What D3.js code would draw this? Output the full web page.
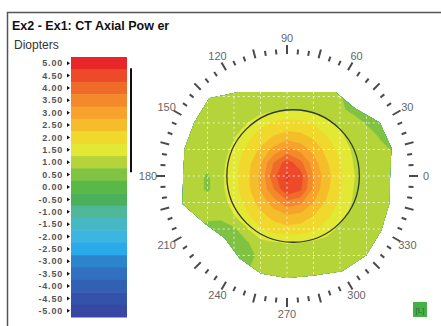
<!DOCTYPE html>
<html>
<head>
<meta charset="utf-8">
<script src="https://cdn.jsdelivr.net/npm/d3@7"></script>
<style>
  body { margin: 0; background: #fff; }
  svg { display: block; font-family: "Liberation Sans", Arial, sans-serif; }
</style>
</head>
<body>
<svg id="chart" width="441" height="326"></svg>
<script>
// legend scale, top to bottom
const legendLabels = ["5.00", "4.50", "4.00", "3.50", "3.00", "2.50", "2.00", "1.50", "1.00", "0.50", "0.00",
  "-0.50", "-1.00", "-1.50", "-2.00", "-2.50", "-3.00", "-3.50", "-4.00", "-4.50", "-5.00"];
const legendColors = ["#e8262a", "#ec4a28", "#f06a2a", "#f4892c", "#f6a22c", "#f6bd2a", "#f0d92c", "#e2e834", "#b4d43a",
  "#80c242", "#5ab848", "#4cb05a", "#50b898", "#46b8c2", "#3cb6e0", "#2aaae8", "#2c84cc", "#2f70c0", "#3260b4", "#3452aa", "#3648a4"];
const mapRange = [0.6, 4.8];

// axial power difference (D), sampled every 0.5 mm from -4 to 4 mm; first row is superior (+4 mm)
const powerGrid = [
  [1, 1, 1, 1, 1, 1, 1, 1, 1, 1, 1, 1, 1, 1, 1, 1, 1],
  [1, 1, 1, 1, 1, 1, 1, 1, 1, 1, 1, 1, 1, 1, 1, 1, 1],
  [1, 1, 1, 1, 1, 1, 1, 1.02, 1.05, 1.04, 1, 1, 0.8, 0.4, 0.5, 0.5, 0.5],
  [1, 1, 1, 1, 1, 1, 1.05, 1.15, 1.22, 1.2, 1.1, 1, 0.85, 0.6, 0.4, 0.5, 0.5],
  [1, 1, 1, 1, 1.03, 1.25, 1.57, 1.81, 1.92, 1.88, 1.7, 1.4, 1.13, 1, 0.7, 0.5, 0.5],
  [1, 1, 1, 1, 1.19, 1.58, 1.97, 2.26, 2.45, 2.38, 2.12, 1.76, 1.34, 1.05, 1, 0.7, 0.5],
  [1, 1, 1, 1.03, 1.37, 1.86, 2.33, 2.9, 3.4, 3.05, 2.57, 2.07, 1.59, 1.16, 1, 0.9, 0.7],
  [1, 1, 1, 1.1, 1.52, 2.05, 2.7, 3.75, 4.5, 3.9, 2.97, 2.3, 1.76, 1.24, 1, 1, 1],
  [1, 1, 0.65, 1.13, 1.58, 2.13, 2.85, 4.1, 4.8, 4.5, 3.2, 2.43, 1.83, 1.28, 1, 1, 1],
  [1, 1, 0.65, 1.12, 1.55, 2.09, 2.78, 3.7, 4.7, 4.35, 3.1, 2.36, 1.79, 1.25, 1, 1, 1],
  [1, 1, 1, 1.06, 1.42, 1.92, 2.45, 3.0, 3.55, 3.35, 2.75, 2.15, 1.65, 1.19, 1, 1, 1],
  [1, 1, 0.85, 0.85, 1.23, 1.67, 2.08, 2.44, 2.66, 2.58, 2.24, 1.86, 1.43, 1.08, 1, 1, 1],
  [1, 0.8, 0.6, 0.55, 0.65, 1.2, 1.7, 1.95, 2.07, 2.02, 1.83, 1.52, 1.1, 1, 1, 1, 1],
  [0.6, 0.6, 0.6, 0.5, 0.55, 0.7, 1.1, 1.22, 1.28, 1.26, 1.15, 1.05, 1, 1, 1, 1, 1],
  [0.6, 0.6, 0.6, 0.6, 0.5, 0.6, 0.85, 1, 1, 1, 1, 1, 1, 1, 1, 1, 1],
  [0.6, 0.6, 0.6, 0.6, 0.6, 0.7, 1, 1, 1, 1, 1, 1, 1, 1, 1, 1, 1],
  [0.6, 0.6, 0.6, 0.6, 0.6, 1, 1, 1, 1, 1, 1, 1, 1, 1, 1, 1, 1]
];

// measured area outline: radius (mm) every 15 deg
const edgeAngles = [0, 15, 30, 45, 60, 75, 90, 105, 120, 135, 150, 165, 180, 195, 210, 225, 240, 255, 270, 285, 300, 315, 330, 345];
const edgeRadius = [3.89, 4.08, 4.04, 3.62, 3.66, 3.28, 3.17, 3.28, 3.66, 4.15, 4.04, 4.0, 3.92, 4.08, 3.58, 3.32, 3.58, 3.81, 3.85, 3.89, 4.15, 4.23, 4.11, 4.0];

const zoneCenter = [0.23, 0];
const zoneRadius = 2.5;
const gridLinesMm = [-4, -3, -2, -1, 0, 1, 2, 3, 4];
const axisLabels = [0, 30, 60, 90, 120, 150, 180, 210, 240, 270, 300, 330];

const svg = d3.select("#chart");
const cx = 287, cy = 176, pxPerMm = 26.5;

// frame
svg.append("path")
  .attr("d", "M7.5,326V12.5H441")
  .attr("fill", "none")
  .attr("stroke", "#555")
  .attr("stroke-width", 1.5);

svg.append("text")
  .attr("x", 12).attr("y", 30)
  .attr("font-size", 12.5).attr("font-weight", "bold").attr("fill", "#111")
  .text("Ex2 - Ex1: CT Axial Pow er");

svg.append("text")
  .attr("x", 14).attr("y", 49)
  .attr("font-size", 12).attr("fill", "#333")
  .text("Diopters");

// legend
const band = d3.scaleBand().domain(legendLabels).range([57, 317]);
const legend = svg.append("g");
legend.selectAll("rect")
  .data(legendLabels)
  .join("rect")
  .attr("x", 71).attr("width", 56)
  .attr("y", d => band(d))
  .attr("height", band.bandwidth() + 0.5)
  .attr("fill", (d, i) => legendColors[i]);

legend.selectAll("text")
  .data(legendLabels)
  .join("text")
  .attr("x", 63)
  .attr("y", d => band(d) + band.bandwidth() / 2)
  .attr("dy", "0.35em")
  .attr("text-anchor", "end")
  .attr("font-size", 9)
  .attr("font-weight", "bold")
  .attr("letter-spacing", 0.8)
  .attr("fill", "#555")
  .text(d => d);

legend.selectAll("path.mark")
  .data(legendLabels)
  .join("path")
  .attr("class", "mark")
  .attr("d", d => {
    const yy = band(d) + band.bandwidth() / 2;
    return `M67,${yy - 2}L70,${yy}L67,${yy + 2}Z`;
  })
  .attr("fill", "#111");

const valueY = d3.scaleLinear()
  .domain([+legendLabels[0], +legendLabels[legendLabels.length - 1]])
  .range([band(legendLabels[0]) + band.bandwidth() / 2, band(legendLabels[legendLabels.length - 1]) + band.bandwidth() / 2]);
svg.append("line")
  .attr("x1", 131).attr("x2", 131)
  .attr("y1", valueY(mapRange[1])).attr("y2", valueY(mapRange[0]))
  .attr("stroke", "#111").attr("stroke-width", 2);

// map
const x = d3.scaleLinear().domain([-4, 4]).range([cx - 4 * pxPerMm, cx + 4 * pxPerMm]);
const y = d3.scaleLinear().domain([-4, 4]).range([cy + 4 * pxPerMm, cy - 4 * pxPerMm]);
const rad = d3.scaleLinear().domain([0, 180]).range([0, Math.PI]);

const edgeLine = d3.line().curve(d3.curveLinearClosed);
const edgePts = edgeAngles.map((a, i) => [x(edgeRadius[i] * Math.cos(rad(a))), y(edgeRadius[i] * Math.sin(rad(a)))]);

svg.append("clipPath").attr("id", "mapClip")
  .append("path").attr("d", edgeLine(edgePts));

const n = powerGrid.length;
const gx = d3.scaleLinear().domain([0.5, n - 0.5]).range([x(-4), x(4)]);
const gy = d3.scaleLinear().domain([0.5, n - 0.5]).range([y(4), y(-4)]);
const project = d3.geoTransform({
  point(px, py) { this.stream.point(gx(px), gy(py)); }
});
const geoPath = d3.geoPath(project);

const color = d3.scaleThreshold()
  .domain(d3.range(-4.75, 5, 0.5))
  .range(legendColors.slice().reverse());

const contours = d3.contours()
  .size([n, n])
  .thresholds(d3.range(-5.25, 5, 0.5))(powerGrid.flat());

const mapG = svg.append("g").attr("clip-path", "url(#mapClip)");
mapG.selectAll("path")
  .data(contours)
  .join("path")
  .attr("d", geoPath)
  .attr("fill", d => color(d.value + 0.25))
  .attr("stroke", d => color(d.value + 0.25))
  .attr("stroke-width", 0.5);

// dashed mm grid
mapG.selectAll("line.v")
  .data(gridLinesMm)
  .join("line")
  .attr("class", "v")
  .attr("x1", d => x(d)).attr("x2", d => x(d))
  .attr("y1", y(4.5)).attr("y2", y(-4.5));
mapG.selectAll("line.h")
  .data(gridLinesMm)
  .join("line")
  .attr("class", "h")
  .attr("y1", d => y(d)).attr("y2", d => y(d))
  .attr("x1", x(-4.5)).attr("x2", x(4.5));
mapG.selectAll("line")
  .attr("stroke", "#fff")
  .attr("stroke-opacity", 0.75)
  .attr("stroke-width", 1)
  .attr("stroke-dasharray", "2,3");

// 5 mm zone
svg.append("circle")
  .attr("cx", x(zoneCenter[0])).attr("cy", y(zoneCenter[1]))
  .attr("r", x(zoneRadius) - x(0))
  .attr("fill", "none")
  .attr("stroke", "#2d3b2d")
  .attr("stroke-width", 1.3);

// angular scale
const ticks = svg.append("g").attr("opacity", 0.999);
ticks.selectAll("line")
  .data(d3.range(0, 360, 5))
  .join("line")
  .attr("x1", a => cx + 122 * Math.cos(rad(a)))
  .attr("y1", a => cy - 122 * Math.sin(rad(a)))
  .attr("x2", a => cx + (a % 15 === 0 ? 131 : 127) * Math.cos(rad(a)))
  .attr("y2", a => cy - (a % 15 === 0 ? 131 : 127) * Math.sin(rad(a)))
  .attr("stroke", "#4a4a4a")
  .attr("stroke-width", 2);

ticks.selectAll("text")
  .data(axisLabels)
  .join("text")
  .attr("x", a => cx + 139 * Math.cos(rad(a)))
  .attr("y", a => cy - 138 * Math.sin(rad(a)))
  .attr("dy", "0.35em")
  .attr("text-anchor", "middle")
  .attr("font-size", 11)
  .attr("fill", "#666")
  .text(a => a);

// eye marker
svg.append("rect")
  .attr("x", 413).attr("y", 302).attr("width", 14).attr("height", 15)
  .attr("fill", "#45b045");
svg.append("text")
  .attr("x", 420).attr("y", 313)
  .attr("text-anchor", "middle")
  .attr("font-size", 8)
  .attr("fill", "#2a6a2a")
  .text("[L]");
</script>
</body>
</html>
